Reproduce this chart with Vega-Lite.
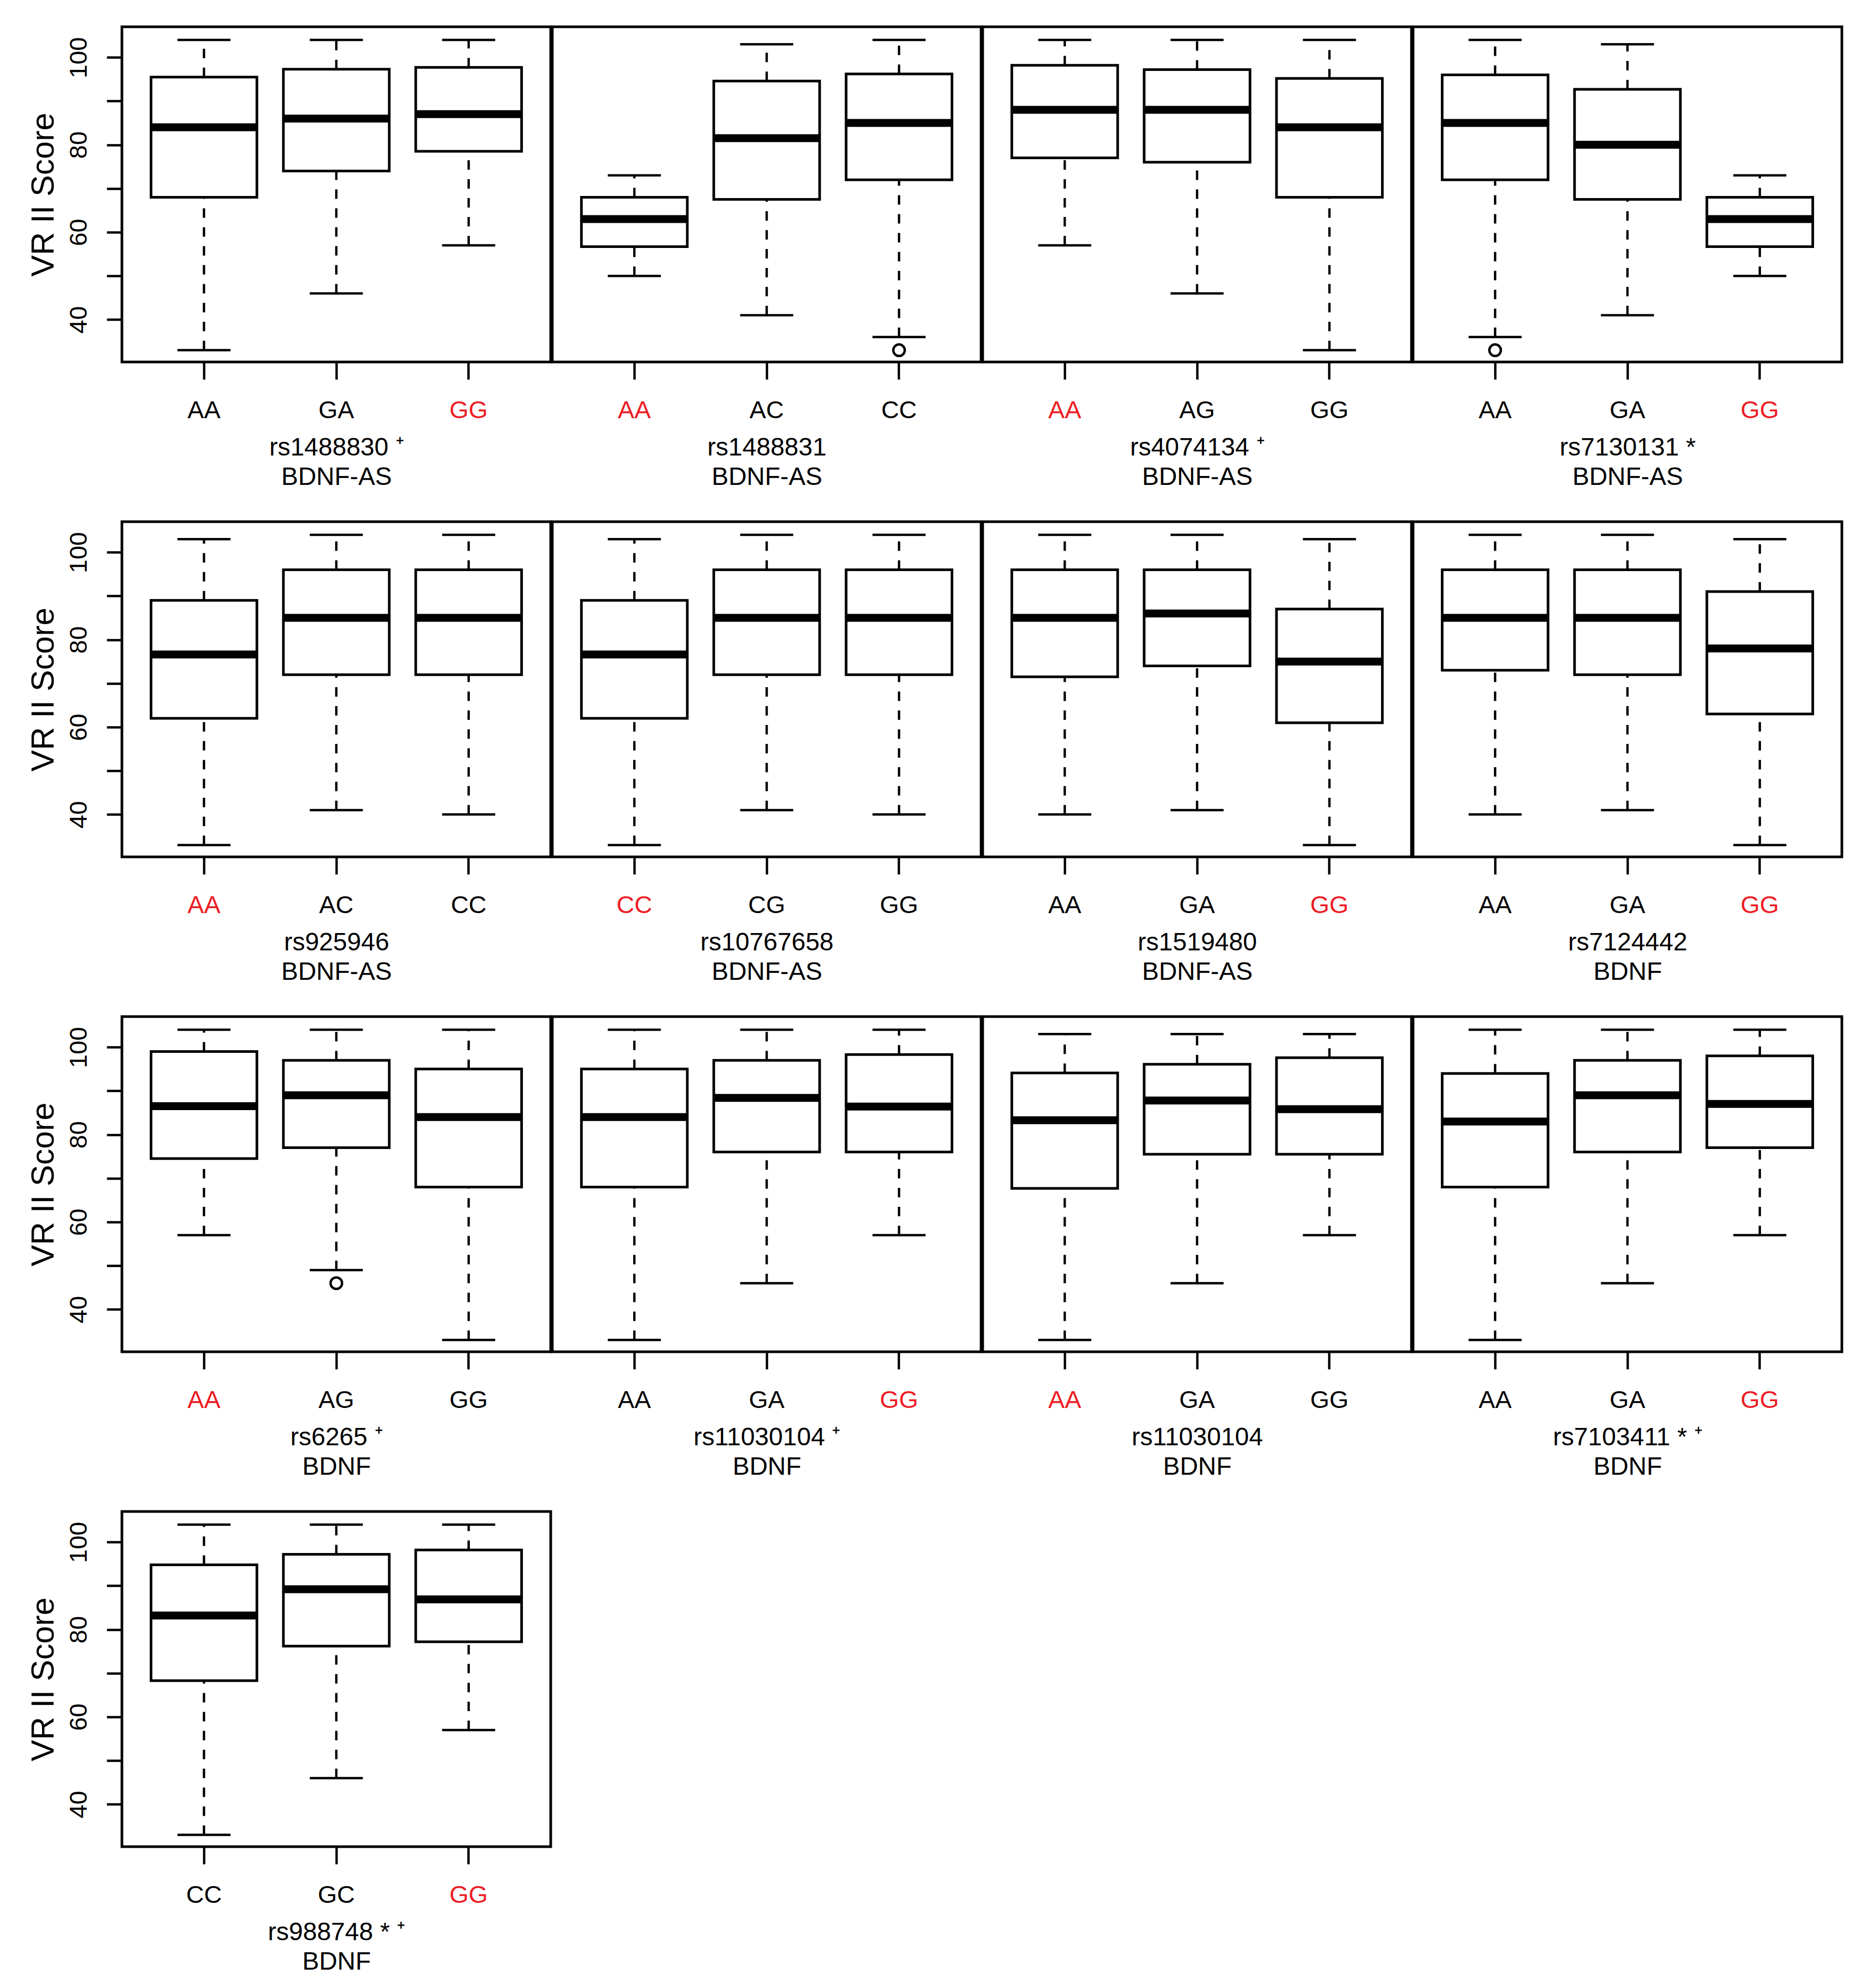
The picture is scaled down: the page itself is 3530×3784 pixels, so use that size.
{
  "$schema": "https://vega.github.io/schema/vega-lite/v6.json",
  "background": "white",
  "padding": {"left": 49, "top": 48, "right": 31, "bottom": 10},
  "autosize": {"type": "pad"},
  "datasets": {
    "boxes": [
      {"panel": 1, "geno": "AA", "lo": 33, "q1": 68, "med": 84, "q3": 95.5, "hi": 104},
      {"panel": 1, "geno": "GA", "lo": 46, "q1": 74, "med": 86, "q3": 97.3, "hi": 104},
      {"panel": 1, "geno": "GG", "lo": 57, "q1": 78.5, "med": 87, "q3": 97.7, "hi": 104},
      {"panel": 2, "geno": "AA", "lo": 50, "q1": 56.7, "med": 63, "q3": 68, "hi": 73},
      {"panel": 2, "geno": "AC", "lo": 41, "q1": 67.5, "med": 81.5, "q3": 94.6, "hi": 103},
      {"panel": 2, "geno": "CC", "lo": 36, "q1": 72, "med": 85, "q3": 96.2, "hi": 104},
      {"panel": 3, "geno": "AA", "lo": 57, "q1": 77, "med": 88, "q3": 98.2, "hi": 104},
      {"panel": 3, "geno": "AG", "lo": 46, "q1": 76, "med": 88, "q3": 97.2, "hi": 104},
      {"panel": 3, "geno": "GG", "lo": 33, "q1": 68, "med": 84, "q3": 95.2, "hi": 104},
      {"panel": 4, "geno": "AA", "lo": 36, "q1": 72, "med": 85, "q3": 96, "hi": 104},
      {"panel": 4, "geno": "GA", "lo": 41, "q1": 67.5, "med": 80, "q3": 92.7, "hi": 103},
      {"panel": 4, "geno": "GG", "lo": 50, "q1": 56.7, "med": 63, "q3": 68, "hi": 73},
      {"panel": 5, "geno": "AA", "lo": 33, "q1": 62, "med": 76.6, "q3": 89, "hi": 103},
      {"panel": 5, "geno": "AC", "lo": 41, "q1": 72, "med": 85, "q3": 96, "hi": 104},
      {"panel": 5, "geno": "CC", "lo": 40, "q1": 72, "med": 85, "q3": 96, "hi": 104},
      {"panel": 6, "geno": "CC", "lo": 33, "q1": 62, "med": 76.6, "q3": 89, "hi": 103},
      {"panel": 6, "geno": "CG", "lo": 41, "q1": 72, "med": 85, "q3": 96, "hi": 104},
      {"panel": 6, "geno": "GG", "lo": 40, "q1": 72, "med": 85, "q3": 96, "hi": 104},
      {"panel": 7, "geno": "AA", "lo": 40, "q1": 71.5, "med": 85, "q3": 96, "hi": 104},
      {"panel": 7, "geno": "GA", "lo": 41, "q1": 74, "med": 86, "q3": 96, "hi": 104},
      {"panel": 7, "geno": "GG", "lo": 33, "q1": 61, "med": 75, "q3": 87, "hi": 103},
      {"panel": 8, "geno": "AA", "lo": 40, "q1": 73, "med": 85, "q3": 96, "hi": 104},
      {"panel": 8, "geno": "GA", "lo": 41, "q1": 72, "med": 85, "q3": 96, "hi": 104},
      {"panel": 8, "geno": "GG", "lo": 33, "q1": 63, "med": 78, "q3": 91, "hi": 103},
      {"panel": 9, "geno": "AA", "lo": 57, "q1": 74.5, "med": 86.5, "q3": 99, "hi": 104},
      {"panel": 9, "geno": "AG", "lo": 49, "q1": 77, "med": 89, "q3": 97, "hi": 104},
      {"panel": 9, "geno": "GG", "lo": 33, "q1": 68, "med": 84, "q3": 95, "hi": 104},
      {"panel": 10, "geno": "AA", "lo": 33, "q1": 68, "med": 84, "q3": 95, "hi": 104},
      {"panel": 10, "geno": "GA", "lo": 46, "q1": 76, "med": 88.4, "q3": 97, "hi": 104},
      {"panel": 10, "geno": "GG", "lo": 57, "q1": 76, "med": 86.4, "q3": 98.3, "hi": 104},
      {"panel": 11, "geno": "AA", "lo": 33, "q1": 67.7, "med": 83.3, "q3": 94.1, "hi": 103},
      {"panel": 11, "geno": "GA", "lo": 46, "q1": 75.5, "med": 87.8, "q3": 96.1, "hi": 103},
      {"panel": 11, "geno": "GG", "lo": 57, "q1": 75.5, "med": 85.8, "q3": 97.6, "hi": 103},
      {"panel": 12, "geno": "AA", "lo": 33, "q1": 68, "med": 83, "q3": 94, "hi": 104},
      {"panel": 12, "geno": "GA", "lo": 46, "q1": 76, "med": 89, "q3": 97, "hi": 104},
      {"panel": 12, "geno": "GG", "lo": 57, "q1": 77, "med": 87, "q3": 98, "hi": 104},
      {"panel": 13, "geno": "CC", "lo": 33, "q1": 68.3, "med": 83.2, "q3": 94.8, "hi": 104},
      {"panel": 13, "geno": "GC", "lo": 46, "q1": 76.2, "med": 89.2, "q3": 97.2, "hi": 104},
      {"panel": 13, "geno": "GG", "lo": 57, "q1": 77.2, "med": 86.9, "q3": 98.2, "hi": 104}
    ],
    "outliers": [
      {"panel": 2, "geno": "CC", "value": 33},
      {"panel": 4, "geno": "AA", "value": 33},
      {"panel": 9, "geno": "AG", "value": 46}
    ]
  },
  "columns": 4,
  "spacing": {"row": 55, "column": -8},
  "align": "each",
  "bounds": "full",
  "concat": [
    {"width": 816, "height": 638, "data": {"name": "boxes"}, "transform": [{"filter": "datum.panel == 1"}],
     "encoding": {"x": {"field": "geno", "type": "nominal", "sort": "ascending", "scale": {"type": "band", "paddingInner": 0.2, "paddingOuter": 0.22},
       "axis": {"title": ["rs1488830 ⁺", "BDNF-AS"], "labelColor": {"condition": {"test": "datum.value == 'GG'", "value": "#ed1c24"}, "value": "black"}}}},
     "layer": [
       {"mark": {"type": "rule", "strokeDash": [18, 18], "strokeWidth": 4.5, "color": "black"}, "encoding": {"y": {"field": "q3", "type": "quantitative", "scale": {"domain": [30.3, 107], "nice": false, "zero": false}, "axis": {"title": "VR II Score", "values": [40, 50, 60, 70, 80, 90, 100], "labelExpr": "datum.value % 20 == 0 ? datum.label : ''", "labelAngle": 270, "labelAlign": "center", "labelBaseline": "bottom", "labelPadding": 29, "tickSize": 29, "titlePadding": 12}}, "y2": {"field": "hi"}}},
       {"mark": {"type": "rule", "strokeDash": [18, 18], "strokeWidth": 4.5, "color": "black"}, "encoding": {"y": {"field": "lo", "type": "quantitative", "scale": {"domain": [30.3, 107], "nice": false, "zero": false}, "axis": {"title": "VR II Score", "values": [40, 50, 60, 70, 80, 90, 100], "labelExpr": "datum.value % 20 == 0 ? datum.label : ''", "labelAngle": 270, "labelAlign": "center", "labelBaseline": "bottom", "labelPadding": 29, "tickSize": 29, "titlePadding": 12}}, "y2": {"field": "q1"}}},
       {"mark": {"type": "bar", "fill": "white", "stroke": "black", "strokeWidth": 5, "opacity": 1}, "encoding": {"y": {"field": "q1", "type": "quantitative", "scale": {"domain": [30.3, 107], "nice": false, "zero": false}, "axis": {"title": "VR II Score", "values": [40, 50, 60, 70, 80, 90, 100], "labelExpr": "datum.value % 20 == 0 ? datum.label : ''", "labelAngle": 270, "labelAlign": "center", "labelBaseline": "bottom", "labelPadding": 29, "tickSize": 29, "titlePadding": 12}}, "y2": {"field": "q3"}}},
       {"mark": {"type": "tick", "size": 201, "thickness": 15, "color": "black", "opacity": 1}, "encoding": {"y": {"field": "med", "type": "quantitative", "scale": {"domain": [30.3, 107], "nice": false, "zero": false}, "axis": {"title": "VR II Score", "values": [40, 50, 60, 70, 80, 90, 100], "labelExpr": "datum.value % 20 == 0 ? datum.label : ''", "labelAngle": 270, "labelAlign": "center", "labelBaseline": "bottom", "labelPadding": 29, "tickSize": 29, "titlePadding": 12}}}},
       {"mark": {"type": "tick", "size": 101, "thickness": 4.5, "color": "black", "opacity": 1}, "encoding": {"y": {"field": "hi", "type": "quantitative", "scale": {"domain": [30.3, 107], "nice": false, "zero": false}, "axis": {"title": "VR II Score", "values": [40, 50, 60, 70, 80, 90, 100], "labelExpr": "datum.value % 20 == 0 ? datum.label : ''", "labelAngle": 270, "labelAlign": "center", "labelBaseline": "bottom", "labelPadding": 29, "tickSize": 29, "titlePadding": 12}}}},
       {"mark": {"type": "tick", "size": 101, "thickness": 4.5, "color": "black", "opacity": 1}, "encoding": {"y": {"field": "lo", "type": "quantitative", "scale": {"domain": [30.3, 107], "nice": false, "zero": false}, "axis": {"title": "VR II Score", "values": [40, 50, 60, 70, 80, 90, 100], "labelExpr": "datum.value % 20 == 0 ? datum.label : ''", "labelAngle": 270, "labelAlign": "center", "labelBaseline": "bottom", "labelPadding": 29, "tickSize": 29, "titlePadding": 12}}}}
     ]},
    {"width": 816, "height": 638, "data": {"name": "boxes"}, "transform": [{"filter": "datum.panel == 2"}],
     "encoding": {"x": {"field": "geno", "type": "nominal", "sort": "ascending", "scale": {"type": "band", "paddingInner": 0.2, "paddingOuter": 0.22},
       "axis": {"title": ["rs1488831", "BDNF-AS"], "labelColor": {"condition": {"test": "datum.value == 'AA'", "value": "#ed1c24"}, "value": "black"}}}},
     "layer": [
       {"mark": {"type": "rule", "strokeDash": [18, 18], "strokeWidth": 4.5, "color": "black"}, "encoding": {"y": {"field": "q3", "type": "quantitative", "scale": {"domain": [30.3, 107], "nice": false, "zero": false}, "axis": null}, "y2": {"field": "hi"}}},
       {"mark": {"type": "rule", "strokeDash": [18, 18], "strokeWidth": 4.5, "color": "black"}, "encoding": {"y": {"field": "lo", "type": "quantitative", "scale": {"domain": [30.3, 107], "nice": false, "zero": false}, "axis": null}, "y2": {"field": "q1"}}},
       {"mark": {"type": "bar", "fill": "white", "stroke": "black", "strokeWidth": 5, "opacity": 1}, "encoding": {"y": {"field": "q1", "type": "quantitative", "scale": {"domain": [30.3, 107], "nice": false, "zero": false}, "axis": null}, "y2": {"field": "q3"}}},
       {"mark": {"type": "tick", "size": 201, "thickness": 15, "color": "black", "opacity": 1}, "encoding": {"y": {"field": "med", "type": "quantitative", "scale": {"domain": [30.3, 107], "nice": false, "zero": false}, "axis": null}}},
       {"mark": {"type": "tick", "size": 101, "thickness": 4.5, "color": "black", "opacity": 1}, "encoding": {"y": {"field": "hi", "type": "quantitative", "scale": {"domain": [30.3, 107], "nice": false, "zero": false}, "axis": null}}},
       {"mark": {"type": "tick", "size": 101, "thickness": 4.5, "color": "black", "opacity": 1}, "encoding": {"y": {"field": "lo", "type": "quantitative", "scale": {"domain": [30.3, 107], "nice": false, "zero": false}, "axis": null}}},
       {"data": {"name": "outliers"}, "transform": [{"filter": "datum.panel == 2"}], "mark": {"type": "point", "shape": "circle", "filled": false, "stroke": "black", "strokeWidth": 4.5, "size": 480, "opacity": 1}, "encoding": {"y": {"field": "value", "type": "quantitative", "scale": {"domain": [30.3, 107], "nice": false, "zero": false}, "axis": null}}}
     ]},
    {"width": 816, "height": 638, "data": {"name": "boxes"}, "transform": [{"filter": "datum.panel == 3"}],
     "encoding": {"x": {"field": "geno", "type": "nominal", "sort": "ascending", "scale": {"type": "band", "paddingInner": 0.2, "paddingOuter": 0.22},
       "axis": {"title": ["rs4074134 ⁺", "BDNF-AS"], "labelColor": {"condition": {"test": "datum.value == 'AA'", "value": "#ed1c24"}, "value": "black"}}}},
     "layer": [
       {"mark": {"type": "rule", "strokeDash": [18, 18], "strokeWidth": 4.5, "color": "black"}, "encoding": {"y": {"field": "q3", "type": "quantitative", "scale": {"domain": [30.3, 107], "nice": false, "zero": false}, "axis": null}, "y2": {"field": "hi"}}},
       {"mark": {"type": "rule", "strokeDash": [18, 18], "strokeWidth": 4.5, "color": "black"}, "encoding": {"y": {"field": "lo", "type": "quantitative", "scale": {"domain": [30.3, 107], "nice": false, "zero": false}, "axis": null}, "y2": {"field": "q1"}}},
       {"mark": {"type": "bar", "fill": "white", "stroke": "black", "strokeWidth": 5, "opacity": 1}, "encoding": {"y": {"field": "q1", "type": "quantitative", "scale": {"domain": [30.3, 107], "nice": false, "zero": false}, "axis": null}, "y2": {"field": "q3"}}},
       {"mark": {"type": "tick", "size": 201, "thickness": 15, "color": "black", "opacity": 1}, "encoding": {"y": {"field": "med", "type": "quantitative", "scale": {"domain": [30.3, 107], "nice": false, "zero": false}, "axis": null}}},
       {"mark": {"type": "tick", "size": 101, "thickness": 4.5, "color": "black", "opacity": 1}, "encoding": {"y": {"field": "hi", "type": "quantitative", "scale": {"domain": [30.3, 107], "nice": false, "zero": false}, "axis": null}}},
       {"mark": {"type": "tick", "size": 101, "thickness": 4.5, "color": "black", "opacity": 1}, "encoding": {"y": {"field": "lo", "type": "quantitative", "scale": {"domain": [30.3, 107], "nice": false, "zero": false}, "axis": null}}}
     ]},
    {"width": 816, "height": 638, "data": {"name": "boxes"}, "transform": [{"filter": "datum.panel == 4"}],
     "encoding": {"x": {"field": "geno", "type": "nominal", "sort": "ascending", "scale": {"type": "band", "paddingInner": 0.2, "paddingOuter": 0.22},
       "axis": {"title": ["rs7130131 *", "BDNF-AS"], "labelColor": {"condition": {"test": "datum.value == 'GG'", "value": "#ed1c24"}, "value": "black"}}}},
     "layer": [
       {"mark": {"type": "rule", "strokeDash": [18, 18], "strokeWidth": 4.5, "color": "black"}, "encoding": {"y": {"field": "q3", "type": "quantitative", "scale": {"domain": [30.3, 107], "nice": false, "zero": false}, "axis": null}, "y2": {"field": "hi"}}},
       {"mark": {"type": "rule", "strokeDash": [18, 18], "strokeWidth": 4.5, "color": "black"}, "encoding": {"y": {"field": "lo", "type": "quantitative", "scale": {"domain": [30.3, 107], "nice": false, "zero": false}, "axis": null}, "y2": {"field": "q1"}}},
       {"mark": {"type": "bar", "fill": "white", "stroke": "black", "strokeWidth": 5, "opacity": 1}, "encoding": {"y": {"field": "q1", "type": "quantitative", "scale": {"domain": [30.3, 107], "nice": false, "zero": false}, "axis": null}, "y2": {"field": "q3"}}},
       {"mark": {"type": "tick", "size": 201, "thickness": 15, "color": "black", "opacity": 1}, "encoding": {"y": {"field": "med", "type": "quantitative", "scale": {"domain": [30.3, 107], "nice": false, "zero": false}, "axis": null}}},
       {"mark": {"type": "tick", "size": 101, "thickness": 4.5, "color": "black", "opacity": 1}, "encoding": {"y": {"field": "hi", "type": "quantitative", "scale": {"domain": [30.3, 107], "nice": false, "zero": false}, "axis": null}}},
       {"mark": {"type": "tick", "size": 101, "thickness": 4.5, "color": "black", "opacity": 1}, "encoding": {"y": {"field": "lo", "type": "quantitative", "scale": {"domain": [30.3, 107], "nice": false, "zero": false}, "axis": null}}},
       {"data": {"name": "outliers"}, "transform": [{"filter": "datum.panel == 4"}], "mark": {"type": "point", "shape": "circle", "filled": false, "stroke": "black", "strokeWidth": 4.5, "size": 480, "opacity": 1}, "encoding": {"y": {"field": "value", "type": "quantitative", "scale": {"domain": [30.3, 107], "nice": false, "zero": false}, "axis": null}}}
     ]},
    {"width": 816, "height": 638, "data": {"name": "boxes"}, "transform": [{"filter": "datum.panel == 5"}],
     "encoding": {"x": {"field": "geno", "type": "nominal", "sort": "ascending", "scale": {"type": "band", "paddingInner": 0.2, "paddingOuter": 0.22},
       "axis": {"title": ["rs925946", "BDNF-AS"], "labelColor": {"condition": {"test": "datum.value == 'AA'", "value": "#ed1c24"}, "value": "black"}}}},
     "layer": [
       {"mark": {"type": "rule", "strokeDash": [18, 18], "strokeWidth": 4.5, "color": "black"}, "encoding": {"y": {"field": "q3", "type": "quantitative", "scale": {"domain": [30.3, 107], "nice": false, "zero": false}, "axis": {"title": "VR II Score", "values": [40, 50, 60, 70, 80, 90, 100], "labelExpr": "datum.value % 20 == 0 ? datum.label : ''", "labelAngle": 270, "labelAlign": "center", "labelBaseline": "bottom", "labelPadding": 29, "tickSize": 29, "titlePadding": 12}}, "y2": {"field": "hi"}}},
       {"mark": {"type": "rule", "strokeDash": [18, 18], "strokeWidth": 4.5, "color": "black"}, "encoding": {"y": {"field": "lo", "type": "quantitative", "scale": {"domain": [30.3, 107], "nice": false, "zero": false}, "axis": {"title": "VR II Score", "values": [40, 50, 60, 70, 80, 90, 100], "labelExpr": "datum.value % 20 == 0 ? datum.label : ''", "labelAngle": 270, "labelAlign": "center", "labelBaseline": "bottom", "labelPadding": 29, "tickSize": 29, "titlePadding": 12}}, "y2": {"field": "q1"}}},
       {"mark": {"type": "bar", "fill": "white", "stroke": "black", "strokeWidth": 5, "opacity": 1}, "encoding": {"y": {"field": "q1", "type": "quantitative", "scale": {"domain": [30.3, 107], "nice": false, "zero": false}, "axis": {"title": "VR II Score", "values": [40, 50, 60, 70, 80, 90, 100], "labelExpr": "datum.value % 20 == 0 ? datum.label : ''", "labelAngle": 270, "labelAlign": "center", "labelBaseline": "bottom", "labelPadding": 29, "tickSize": 29, "titlePadding": 12}}, "y2": {"field": "q3"}}},
       {"mark": {"type": "tick", "size": 201, "thickness": 15, "color": "black", "opacity": 1}, "encoding": {"y": {"field": "med", "type": "quantitative", "scale": {"domain": [30.3, 107], "nice": false, "zero": false}, "axis": {"title": "VR II Score", "values": [40, 50, 60, 70, 80, 90, 100], "labelExpr": "datum.value % 20 == 0 ? datum.label : ''", "labelAngle": 270, "labelAlign": "center", "labelBaseline": "bottom", "labelPadding": 29, "tickSize": 29, "titlePadding": 12}}}},
       {"mark": {"type": "tick", "size": 101, "thickness": 4.5, "color": "black", "opacity": 1}, "encoding": {"y": {"field": "hi", "type": "quantitative", "scale": {"domain": [30.3, 107], "nice": false, "zero": false}, "axis": {"title": "VR II Score", "values": [40, 50, 60, 70, 80, 90, 100], "labelExpr": "datum.value % 20 == 0 ? datum.label : ''", "labelAngle": 270, "labelAlign": "center", "labelBaseline": "bottom", "labelPadding": 29, "tickSize": 29, "titlePadding": 12}}}},
       {"mark": {"type": "tick", "size": 101, "thickness": 4.5, "color": "black", "opacity": 1}, "encoding": {"y": {"field": "lo", "type": "quantitative", "scale": {"domain": [30.3, 107], "nice": false, "zero": false}, "axis": {"title": "VR II Score", "values": [40, 50, 60, 70, 80, 90, 100], "labelExpr": "datum.value % 20 == 0 ? datum.label : ''", "labelAngle": 270, "labelAlign": "center", "labelBaseline": "bottom", "labelPadding": 29, "tickSize": 29, "titlePadding": 12}}}}
     ]},
    {"width": 816, "height": 638, "data": {"name": "boxes"}, "transform": [{"filter": "datum.panel == 6"}],
     "encoding": {"x": {"field": "geno", "type": "nominal", "sort": "ascending", "scale": {"type": "band", "paddingInner": 0.2, "paddingOuter": 0.22},
       "axis": {"title": ["rs10767658", "BDNF-AS"], "labelColor": {"condition": {"test": "datum.value == 'CC'", "value": "#ed1c24"}, "value": "black"}}}},
     "layer": [
       {"mark": {"type": "rule", "strokeDash": [18, 18], "strokeWidth": 4.5, "color": "black"}, "encoding": {"y": {"field": "q3", "type": "quantitative", "scale": {"domain": [30.3, 107], "nice": false, "zero": false}, "axis": null}, "y2": {"field": "hi"}}},
       {"mark": {"type": "rule", "strokeDash": [18, 18], "strokeWidth": 4.5, "color": "black"}, "encoding": {"y": {"field": "lo", "type": "quantitative", "scale": {"domain": [30.3, 107], "nice": false, "zero": false}, "axis": null}, "y2": {"field": "q1"}}},
       {"mark": {"type": "bar", "fill": "white", "stroke": "black", "strokeWidth": 5, "opacity": 1}, "encoding": {"y": {"field": "q1", "type": "quantitative", "scale": {"domain": [30.3, 107], "nice": false, "zero": false}, "axis": null}, "y2": {"field": "q3"}}},
       {"mark": {"type": "tick", "size": 201, "thickness": 15, "color": "black", "opacity": 1}, "encoding": {"y": {"field": "med", "type": "quantitative", "scale": {"domain": [30.3, 107], "nice": false, "zero": false}, "axis": null}}},
       {"mark": {"type": "tick", "size": 101, "thickness": 4.5, "color": "black", "opacity": 1}, "encoding": {"y": {"field": "hi", "type": "quantitative", "scale": {"domain": [30.3, 107], "nice": false, "zero": false}, "axis": null}}},
       {"mark": {"type": "tick", "size": 101, "thickness": 4.5, "color": "black", "opacity": 1}, "encoding": {"y": {"field": "lo", "type": "quantitative", "scale": {"domain": [30.3, 107], "nice": false, "zero": false}, "axis": null}}}
     ]},
    {"width": 816, "height": 638, "data": {"name": "boxes"}, "transform": [{"filter": "datum.panel == 7"}],
     "encoding": {"x": {"field": "geno", "type": "nominal", "sort": "ascending", "scale": {"type": "band", "paddingInner": 0.2, "paddingOuter": 0.22},
       "axis": {"title": ["rs1519480", "BDNF-AS"], "labelColor": {"condition": {"test": "datum.value == 'GG'", "value": "#ed1c24"}, "value": "black"}}}},
     "layer": [
       {"mark": {"type": "rule", "strokeDash": [18, 18], "strokeWidth": 4.5, "color": "black"}, "encoding": {"y": {"field": "q3", "type": "quantitative", "scale": {"domain": [30.3, 107], "nice": false, "zero": false}, "axis": null}, "y2": {"field": "hi"}}},
       {"mark": {"type": "rule", "strokeDash": [18, 18], "strokeWidth": 4.5, "color": "black"}, "encoding": {"y": {"field": "lo", "type": "quantitative", "scale": {"domain": [30.3, 107], "nice": false, "zero": false}, "axis": null}, "y2": {"field": "q1"}}},
       {"mark": {"type": "bar", "fill": "white", "stroke": "black", "strokeWidth": 5, "opacity": 1}, "encoding": {"y": {"field": "q1", "type": "quantitative", "scale": {"domain": [30.3, 107], "nice": false, "zero": false}, "axis": null}, "y2": {"field": "q3"}}},
       {"mark": {"type": "tick", "size": 201, "thickness": 15, "color": "black", "opacity": 1}, "encoding": {"y": {"field": "med", "type": "quantitative", "scale": {"domain": [30.3, 107], "nice": false, "zero": false}, "axis": null}}},
       {"mark": {"type": "tick", "size": 101, "thickness": 4.5, "color": "black", "opacity": 1}, "encoding": {"y": {"field": "hi", "type": "quantitative", "scale": {"domain": [30.3, 107], "nice": false, "zero": false}, "axis": null}}},
       {"mark": {"type": "tick", "size": 101, "thickness": 4.5, "color": "black", "opacity": 1}, "encoding": {"y": {"field": "lo", "type": "quantitative", "scale": {"domain": [30.3, 107], "nice": false, "zero": false}, "axis": null}}}
     ]},
    {"width": 816, "height": 638, "data": {"name": "boxes"}, "transform": [{"filter": "datum.panel == 8"}],
     "encoding": {"x": {"field": "geno", "type": "nominal", "sort": "ascending", "scale": {"type": "band", "paddingInner": 0.2, "paddingOuter": 0.22},
       "axis": {"title": ["rs7124442", "BDNF"], "labelColor": {"condition": {"test": "datum.value == 'GG'", "value": "#ed1c24"}, "value": "black"}}}},
     "layer": [
       {"mark": {"type": "rule", "strokeDash": [18, 18], "strokeWidth": 4.5, "color": "black"}, "encoding": {"y": {"field": "q3", "type": "quantitative", "scale": {"domain": [30.3, 107], "nice": false, "zero": false}, "axis": null}, "y2": {"field": "hi"}}},
       {"mark": {"type": "rule", "strokeDash": [18, 18], "strokeWidth": 4.5, "color": "black"}, "encoding": {"y": {"field": "lo", "type": "quantitative", "scale": {"domain": [30.3, 107], "nice": false, "zero": false}, "axis": null}, "y2": {"field": "q1"}}},
       {"mark": {"type": "bar", "fill": "white", "stroke": "black", "strokeWidth": 5, "opacity": 1}, "encoding": {"y": {"field": "q1", "type": "quantitative", "scale": {"domain": [30.3, 107], "nice": false, "zero": false}, "axis": null}, "y2": {"field": "q3"}}},
       {"mark": {"type": "tick", "size": 201, "thickness": 15, "color": "black", "opacity": 1}, "encoding": {"y": {"field": "med", "type": "quantitative", "scale": {"domain": [30.3, 107], "nice": false, "zero": false}, "axis": null}}},
       {"mark": {"type": "tick", "size": 101, "thickness": 4.5, "color": "black", "opacity": 1}, "encoding": {"y": {"field": "hi", "type": "quantitative", "scale": {"domain": [30.3, 107], "nice": false, "zero": false}, "axis": null}}},
       {"mark": {"type": "tick", "size": 101, "thickness": 4.5, "color": "black", "opacity": 1}, "encoding": {"y": {"field": "lo", "type": "quantitative", "scale": {"domain": [30.3, 107], "nice": false, "zero": false}, "axis": null}}}
     ]},
    {"width": 816, "height": 638, "data": {"name": "boxes"}, "transform": [{"filter": "datum.panel == 9"}],
     "encoding": {"x": {"field": "geno", "type": "nominal", "sort": "ascending", "scale": {"type": "band", "paddingInner": 0.2, "paddingOuter": 0.22},
       "axis": {"title": ["rs6265 ⁺", "BDNF"], "labelColor": {"condition": {"test": "datum.value == 'AA'", "value": "#ed1c24"}, "value": "black"}}}},
     "layer": [
       {"mark": {"type": "rule", "strokeDash": [18, 18], "strokeWidth": 4.5, "color": "black"}, "encoding": {"y": {"field": "q3", "type": "quantitative", "scale": {"domain": [30.3, 107], "nice": false, "zero": false}, "axis": {"title": "VR II Score", "values": [40, 50, 60, 70, 80, 90, 100], "labelExpr": "datum.value % 20 == 0 ? datum.label : ''", "labelAngle": 270, "labelAlign": "center", "labelBaseline": "bottom", "labelPadding": 29, "tickSize": 29, "titlePadding": 12}}, "y2": {"field": "hi"}}},
       {"mark": {"type": "rule", "strokeDash": [18, 18], "strokeWidth": 4.5, "color": "black"}, "encoding": {"y": {"field": "lo", "type": "quantitative", "scale": {"domain": [30.3, 107], "nice": false, "zero": false}, "axis": {"title": "VR II Score", "values": [40, 50, 60, 70, 80, 90, 100], "labelExpr": "datum.value % 20 == 0 ? datum.label : ''", "labelAngle": 270, "labelAlign": "center", "labelBaseline": "bottom", "labelPadding": 29, "tickSize": 29, "titlePadding": 12}}, "y2": {"field": "q1"}}},
       {"mark": {"type": "bar", "fill": "white", "stroke": "black", "strokeWidth": 5, "opacity": 1}, "encoding": {"y": {"field": "q1", "type": "quantitative", "scale": {"domain": [30.3, 107], "nice": false, "zero": false}, "axis": {"title": "VR II Score", "values": [40, 50, 60, 70, 80, 90, 100], "labelExpr": "datum.value % 20 == 0 ? datum.label : ''", "labelAngle": 270, "labelAlign": "center", "labelBaseline": "bottom", "labelPadding": 29, "tickSize": 29, "titlePadding": 12}}, "y2": {"field": "q3"}}},
       {"mark": {"type": "tick", "size": 201, "thickness": 15, "color": "black", "opacity": 1}, "encoding": {"y": {"field": "med", "type": "quantitative", "scale": {"domain": [30.3, 107], "nice": false, "zero": false}, "axis": {"title": "VR II Score", "values": [40, 50, 60, 70, 80, 90, 100], "labelExpr": "datum.value % 20 == 0 ? datum.label : ''", "labelAngle": 270, "labelAlign": "center", "labelBaseline": "bottom", "labelPadding": 29, "tickSize": 29, "titlePadding": 12}}}},
       {"mark": {"type": "tick", "size": 101, "thickness": 4.5, "color": "black", "opacity": 1}, "encoding": {"y": {"field": "hi", "type": "quantitative", "scale": {"domain": [30.3, 107], "nice": false, "zero": false}, "axis": {"title": "VR II Score", "values": [40, 50, 60, 70, 80, 90, 100], "labelExpr": "datum.value % 20 == 0 ? datum.label : ''", "labelAngle": 270, "labelAlign": "center", "labelBaseline": "bottom", "labelPadding": 29, "tickSize": 29, "titlePadding": 12}}}},
       {"mark": {"type": "tick", "size": 101, "thickness": 4.5, "color": "black", "opacity": 1}, "encoding": {"y": {"field": "lo", "type": "quantitative", "scale": {"domain": [30.3, 107], "nice": false, "zero": false}, "axis": {"title": "VR II Score", "values": [40, 50, 60, 70, 80, 90, 100], "labelExpr": "datum.value % 20 == 0 ? datum.label : ''", "labelAngle": 270, "labelAlign": "center", "labelBaseline": "bottom", "labelPadding": 29, "tickSize": 29, "titlePadding": 12}}}},
       {"data": {"name": "outliers"}, "transform": [{"filter": "datum.panel == 9"}], "mark": {"type": "point", "shape": "circle", "filled": false, "stroke": "black", "strokeWidth": 4.5, "size": 480, "opacity": 1}, "encoding": {"y": {"field": "value", "type": "quantitative", "scale": {"domain": [30.3, 107], "nice": false, "zero": false}, "axis": {"title": "VR II Score", "values": [40, 50, 60, 70, 80, 90, 100], "labelExpr": "datum.value % 20 == 0 ? datum.label : ''", "labelAngle": 270, "labelAlign": "center", "labelBaseline": "bottom", "labelPadding": 29, "tickSize": 29, "titlePadding": 12}}}}
     ]},
    {"width": 816, "height": 638, "data": {"name": "boxes"}, "transform": [{"filter": "datum.panel == 10"}],
     "encoding": {"x": {"field": "geno", "type": "nominal", "sort": "ascending", "scale": {"type": "band", "paddingInner": 0.2, "paddingOuter": 0.22},
       "axis": {"title": ["rs11030104 ⁺", "BDNF"], "labelColor": {"condition": {"test": "datum.value == 'GG'", "value": "#ed1c24"}, "value": "black"}}}},
     "layer": [
       {"mark": {"type": "rule", "strokeDash": [18, 18], "strokeWidth": 4.5, "color": "black"}, "encoding": {"y": {"field": "q3", "type": "quantitative", "scale": {"domain": [30.3, 107], "nice": false, "zero": false}, "axis": null}, "y2": {"field": "hi"}}},
       {"mark": {"type": "rule", "strokeDash": [18, 18], "strokeWidth": 4.5, "color": "black"}, "encoding": {"y": {"field": "lo", "type": "quantitative", "scale": {"domain": [30.3, 107], "nice": false, "zero": false}, "axis": null}, "y2": {"field": "q1"}}},
       {"mark": {"type": "bar", "fill": "white", "stroke": "black", "strokeWidth": 5, "opacity": 1}, "encoding": {"y": {"field": "q1", "type": "quantitative", "scale": {"domain": [30.3, 107], "nice": false, "zero": false}, "axis": null}, "y2": {"field": "q3"}}},
       {"mark": {"type": "tick", "size": 201, "thickness": 15, "color": "black", "opacity": 1}, "encoding": {"y": {"field": "med", "type": "quantitative", "scale": {"domain": [30.3, 107], "nice": false, "zero": false}, "axis": null}}},
       {"mark": {"type": "tick", "size": 101, "thickness": 4.5, "color": "black", "opacity": 1}, "encoding": {"y": {"field": "hi", "type": "quantitative", "scale": {"domain": [30.3, 107], "nice": false, "zero": false}, "axis": null}}},
       {"mark": {"type": "tick", "size": 101, "thickness": 4.5, "color": "black", "opacity": 1}, "encoding": {"y": {"field": "lo", "type": "quantitative", "scale": {"domain": [30.3, 107], "nice": false, "zero": false}, "axis": null}}}
     ]},
    {"width": 816, "height": 638, "data": {"name": "boxes"}, "transform": [{"filter": "datum.panel == 11"}],
     "encoding": {"x": {"field": "geno", "type": "nominal", "sort": "ascending", "scale": {"type": "band", "paddingInner": 0.2, "paddingOuter": 0.22},
       "axis": {"title": ["rs11030104", "BDNF"], "labelColor": {"condition": {"test": "datum.value == 'AA'", "value": "#ed1c24"}, "value": "black"}}}},
     "layer": [
       {"mark": {"type": "rule", "strokeDash": [18, 18], "strokeWidth": 4.5, "color": "black"}, "encoding": {"y": {"field": "q3", "type": "quantitative", "scale": {"domain": [30.3, 107], "nice": false, "zero": false}, "axis": null}, "y2": {"field": "hi"}}},
       {"mark": {"type": "rule", "strokeDash": [18, 18], "strokeWidth": 4.5, "color": "black"}, "encoding": {"y": {"field": "lo", "type": "quantitative", "scale": {"domain": [30.3, 107], "nice": false, "zero": false}, "axis": null}, "y2": {"field": "q1"}}},
       {"mark": {"type": "bar", "fill": "white", "stroke": "black", "strokeWidth": 5, "opacity": 1}, "encoding": {"y": {"field": "q1", "type": "quantitative", "scale": {"domain": [30.3, 107], "nice": false, "zero": false}, "axis": null}, "y2": {"field": "q3"}}},
       {"mark": {"type": "tick", "size": 201, "thickness": 15, "color": "black", "opacity": 1}, "encoding": {"y": {"field": "med", "type": "quantitative", "scale": {"domain": [30.3, 107], "nice": false, "zero": false}, "axis": null}}},
       {"mark": {"type": "tick", "size": 101, "thickness": 4.5, "color": "black", "opacity": 1}, "encoding": {"y": {"field": "hi", "type": "quantitative", "scale": {"domain": [30.3, 107], "nice": false, "zero": false}, "axis": null}}},
       {"mark": {"type": "tick", "size": 101, "thickness": 4.5, "color": "black", "opacity": 1}, "encoding": {"y": {"field": "lo", "type": "quantitative", "scale": {"domain": [30.3, 107], "nice": false, "zero": false}, "axis": null}}}
     ]},
    {"width": 816, "height": 638, "data": {"name": "boxes"}, "transform": [{"filter": "datum.panel == 12"}],
     "encoding": {"x": {"field": "geno", "type": "nominal", "sort": "ascending", "scale": {"type": "band", "paddingInner": 0.2, "paddingOuter": 0.22},
       "axis": {"title": ["rs7103411 * ⁺", "BDNF"], "labelColor": {"condition": {"test": "datum.value == 'GG'", "value": "#ed1c24"}, "value": "black"}}}},
     "layer": [
       {"mark": {"type": "rule", "strokeDash": [18, 18], "strokeWidth": 4.5, "color": "black"}, "encoding": {"y": {"field": "q3", "type": "quantitative", "scale": {"domain": [30.3, 107], "nice": false, "zero": false}, "axis": null}, "y2": {"field": "hi"}}},
       {"mark": {"type": "rule", "strokeDash": [18, 18], "strokeWidth": 4.5, "color": "black"}, "encoding": {"y": {"field": "lo", "type": "quantitative", "scale": {"domain": [30.3, 107], "nice": false, "zero": false}, "axis": null}, "y2": {"field": "q1"}}},
       {"mark": {"type": "bar", "fill": "white", "stroke": "black", "strokeWidth": 5, "opacity": 1}, "encoding": {"y": {"field": "q1", "type": "quantitative", "scale": {"domain": [30.3, 107], "nice": false, "zero": false}, "axis": null}, "y2": {"field": "q3"}}},
       {"mark": {"type": "tick", "size": 201, "thickness": 15, "color": "black", "opacity": 1}, "encoding": {"y": {"field": "med", "type": "quantitative", "scale": {"domain": [30.3, 107], "nice": false, "zero": false}, "axis": null}}},
       {"mark": {"type": "tick", "size": 101, "thickness": 4.5, "color": "black", "opacity": 1}, "encoding": {"y": {"field": "hi", "type": "quantitative", "scale": {"domain": [30.3, 107], "nice": false, "zero": false}, "axis": null}}},
       {"mark": {"type": "tick", "size": 101, "thickness": 4.5, "color": "black", "opacity": 1}, "encoding": {"y": {"field": "lo", "type": "quantitative", "scale": {"domain": [30.3, 107], "nice": false, "zero": false}, "axis": null}}}
     ]},
    {"width": 816, "height": 638, "data": {"name": "boxes"}, "transform": [{"filter": "datum.panel == 13"}],
     "encoding": {"x": {"field": "geno", "type": "nominal", "sort": "ascending", "scale": {"type": "band", "paddingInner": 0.2, "paddingOuter": 0.22},
       "axis": {"title": ["rs988748 * ⁺", "BDNF"], "labelColor": {"condition": {"test": "datum.value == 'GG'", "value": "#ed1c24"}, "value": "black"}}}},
     "layer": [
       {"mark": {"type": "rule", "strokeDash": [18, 18], "strokeWidth": 4.5, "color": "black"}, "encoding": {"y": {"field": "q3", "type": "quantitative", "scale": {"domain": [30.3, 107], "nice": false, "zero": false}, "axis": {"title": "VR II Score", "values": [40, 50, 60, 70, 80, 90, 100], "labelExpr": "datum.value % 20 == 0 ? datum.label : ''", "labelAngle": 270, "labelAlign": "center", "labelBaseline": "bottom", "labelPadding": 29, "tickSize": 29, "titlePadding": 12}}, "y2": {"field": "hi"}}},
       {"mark": {"type": "rule", "strokeDash": [18, 18], "strokeWidth": 4.5, "color": "black"}, "encoding": {"y": {"field": "lo", "type": "quantitative", "scale": {"domain": [30.3, 107], "nice": false, "zero": false}, "axis": {"title": "VR II Score", "values": [40, 50, 60, 70, 80, 90, 100], "labelExpr": "datum.value % 20 == 0 ? datum.label : ''", "labelAngle": 270, "labelAlign": "center", "labelBaseline": "bottom", "labelPadding": 29, "tickSize": 29, "titlePadding": 12}}, "y2": {"field": "q1"}}},
       {"mark": {"type": "bar", "fill": "white", "stroke": "black", "strokeWidth": 5, "opacity": 1}, "encoding": {"y": {"field": "q1", "type": "quantitative", "scale": {"domain": [30.3, 107], "nice": false, "zero": false}, "axis": {"title": "VR II Score", "values": [40, 50, 60, 70, 80, 90, 100], "labelExpr": "datum.value % 20 == 0 ? datum.label : ''", "labelAngle": 270, "labelAlign": "center", "labelBaseline": "bottom", "labelPadding": 29, "tickSize": 29, "titlePadding": 12}}, "y2": {"field": "q3"}}},
       {"mark": {"type": "tick", "size": 201, "thickness": 15, "color": "black", "opacity": 1}, "encoding": {"y": {"field": "med", "type": "quantitative", "scale": {"domain": [30.3, 107], "nice": false, "zero": false}, "axis": {"title": "VR II Score", "values": [40, 50, 60, 70, 80, 90, 100], "labelExpr": "datum.value % 20 == 0 ? datum.label : ''", "labelAngle": 270, "labelAlign": "center", "labelBaseline": "bottom", "labelPadding": 29, "tickSize": 29, "titlePadding": 12}}}},
       {"mark": {"type": "tick", "size": 101, "thickness": 4.5, "color": "black", "opacity": 1}, "encoding": {"y": {"field": "hi", "type": "quantitative", "scale": {"domain": [30.3, 107], "nice": false, "zero": false}, "axis": {"title": "VR II Score", "values": [40, 50, 60, 70, 80, 90, 100], "labelExpr": "datum.value % 20 == 0 ? datum.label : ''", "labelAngle": 270, "labelAlign": "center", "labelBaseline": "bottom", "labelPadding": 29, "tickSize": 29, "titlePadding": 12}}}},
       {"mark": {"type": "tick", "size": 101, "thickness": 4.5, "color": "black", "opacity": 1}, "encoding": {"y": {"field": "lo", "type": "quantitative", "scale": {"domain": [30.3, 107], "nice": false, "zero": false}, "axis": {"title": "VR II Score", "values": [40, 50, 60, 70, 80, 90, 100], "labelExpr": "datum.value % 20 == 0 ? datum.label : ''", "labelAngle": 270, "labelAlign": "center", "labelBaseline": "bottom", "labelPadding": 29, "tickSize": 29, "titlePadding": 12}}}}
     ]}
  ],
  "config": {
    "view": {"stroke": "black", "strokeWidth": 5, "fill": "white"},
    "font": "Liberation Sans",
    "axis": {"domain": false, "grid": false, "tickColor": "black", "tickWidth": 4.5, "labelFont": "Liberation Sans", "labelFontSize": 47, "labelColor": "black", "titleFont": "Liberation Sans", "titleFontWeight": "normal", "titleColor": "black"},
    "axisX": {"tickSize": 33, "labelPadding": 36, "labelAngle": 0, "titleFontSize": 48, "titlePadding": 24, "titleLineHeight": 56},
    "axisY": {"titleFontSize": 61}
  }
}
